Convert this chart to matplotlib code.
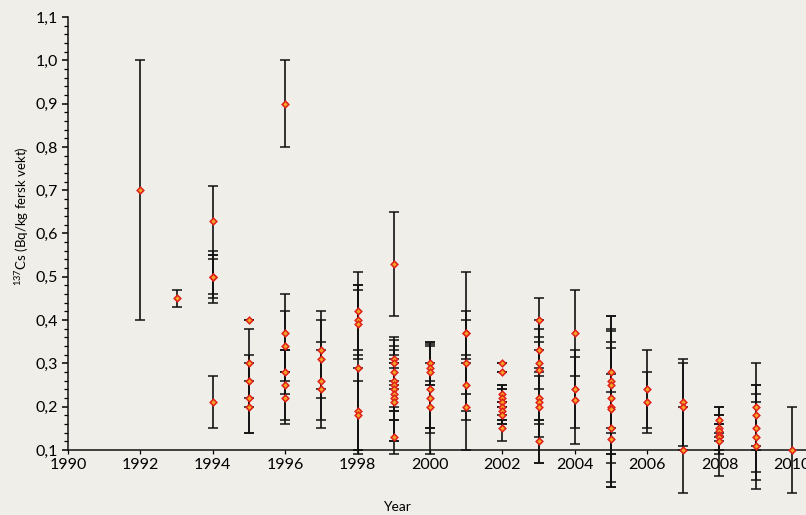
import matplotlib
matplotlib.use("Agg")
import matplotlib.pyplot as plt
from matplotlib.ticker import MultipleLocator, FuncFormatter

# 137Cs per sample: value with lower/upper bound of the uncertainty bar
years = [1992, 1993, 1994, 1995, 1996, 1997, 1998, 1999, 2000, 2001,
         2002, 2003, 2004, 2005, 2006, 2007, 2008, 2009, 2010]

values = [
    [0.70],
    [0.45],
    [0.63, 0.50, 0.50, 0.50, 0.21],
    [0.40, 0.30, 0.26, 0.22, 0.20],
    [0.90, 0.37, 0.34, 0.28, 0.25, 0.22],
    [0.33, 0.31, 0.26, 0.24],
    [0.42, 0.40, 0.39, 0.29, 0.19, 0.18],
    [0.53, 0.31, 0.30, 0.28, 0.26, 0.25, 0.24, 0.23, 0.22, 0.21, 0.13],
    [0.30, 0.29, 0.28, 0.24, 0.22, 0.20],
    [0.37, 0.37, 0.30, 0.25, 0.20],
    [0.30, 0.28, 0.23, 0.22, 0.21, 0.20, 0.19, 0.18, 0.15],
    [0.40, 0.33, 0.30, 0.285, 0.22, 0.21, 0.20, 0.12],
    [0.37, 0.24, 0.215],
    [0.28, 0.26, 0.25, 0.22, 0.20, 0.195, 0.15, 0.125],
    [0.24, 0.21],
    [0.21, 0.20, 0.10],
    [0.17, 0.15, 0.145, 0.135, 0.13, 0.12],
    [0.20, 0.18, 0.15, 0.13, 0.11],
    [0.10],
]

lows = [
    [0.40],
    [0.43],
    [0.55, 0.44, 0.46, 0.45, 0.15],
    [0.40, 0.22, 0.20, 0.14, 0.14],
    [0.80, 0.28, 0.26, 0.23, 0.17, 0.16],
    [0.24, 0.22, 0.17, 0.15],
    [0.33, 0.32, 0.31, 0.10, 0.09, 0.10],
    [0.41, 0.26, 0.25, 0.24, 0.19, 0.20, 0.17, 0.12, 0.19, 0.12, 0.09],
    [0.25, 0.14, 0.26, 0.15, 0.09, 0.15],
    [0.23, 0.32, 0.19, 0.17, 0.10],
    [0.30, 0.28, 0.21, 0.20, 0.17, 0.16, 0.17, 0.16, 0.12],
    [0.35, 0.27, 0.24, 0.17, 0.16, 0.13, 0.07, 0.07],
    [0.27, 0.15, 0.115],
    [0.15, 0.14, 0.09, 0.09, 0.07, 0.015, 0.025, 0.015],
    [0.15, 0.14],
    [0.11, 0.10, 0.00],
    [0.14, 0.12, 0.13, 0.09, 0.10, 0.04],
    [0.10, 0.11, 0.05, 0.03, 0.01],
    [0.00],
]

highs = [
    [1.00],
    [0.47],
    [0.71, 0.56, 0.54, 0.55, 0.27],
    [0.40, 0.38, 0.32, 0.30, 0.26],
    [1.00, 0.46, 0.42, 0.33, 0.33, 0.28],
    [0.42, 0.40, 0.35, 0.33],
    [0.51, 0.48, 0.47, 0.48, 0.29, 0.26],
    [0.65, 0.36, 0.355, 0.32, 0.33, 0.30, 0.31, 0.34, 0.29, 0.30, 0.17],
    [0.35, 0.345, 0.30, 0.34, 0.35, 0.25],
    [0.51, 0.42, 0.40, 0.31, 0.30],
    [0.30, 0.28, 0.25, 0.24, 0.25, 0.24, 0.21, 0.20, 0.18],
    [0.45, 0.38, 0.36, 0.40, 0.28, 0.29, 0.33, 0.17],
    [0.47, 0.33, 0.315],
    [0.41, 0.38, 0.41, 0.35, 0.335, 0.375, 0.275, 0.235],
    [0.33, 0.28],
    [0.31, 0.30, 0.20],
    [0.20, 0.18, 0.16, 0.18, 0.16, 0.20],
    [0.30, 0.25, 0.25, 0.23, 0.21],
    [0.20],
]

x, y, err_lo, err_hi = [], [], [], []
for yr, vals, lo, hi in zip(years, values, lows, highs):
    for v, l, h in zip(vals, lo, hi):
        x.append(yr)
        y.append(v)
        err_lo.append(v - l)
        err_hi.append(h - v)

bg = "#efeee9"
plt.rcParams["font.family"] = ["Lato", "DejaVu Sans"]
plt.rcParams["mathtext.fontset"] = "custom"
plt.rcParams["mathtext.rm"] = "Lato"

fig = plt.figure(figsize=(8.06, 5.15), dpi=100, facecolor=bg)
ax = fig.add_axes([68 / 806, 65 / 515, 738 / 806, 433 / 515], facecolor=bg)

eb = ax.errorbar(x, y, yerr=[err_lo, err_hi], fmt="none", ecolor="#111111",
                 elinewidth=1.2, capsize=3.5, capthick=1.1, zorder=2)
for art in list(eb.lines[1]) + list(eb.lines[2]):
    art.set_clip_on(False)

ax.plot(x, y, linestyle="none", marker="D", markersize=3.4,
        markerfacecolor="#f5a623", markeredgecolor="#e0201b",
        markeredgewidth=1.1, zorder=3, clip_on=False)

ax.set_xlim(1990, 2010.39)
ax.set_ylim(0.1, 1.1)
ax.xaxis.set_major_locator(MultipleLocator(2))
ax.yaxis.set_major_locator(MultipleLocator(0.1))
ax.yaxis.set_minor_locator(MultipleLocator(0.02))
ax.yaxis.set_major_formatter(FuncFormatter(lambda v, p: f"{v:.1f}".replace(".", ",")))

for side in ["top", "right"]:
    ax.spines[side].set_visible(False)
for side in ["left", "bottom"]:
    ax.spines[side].set_linewidth(1.1)
    ax.spines[side].set_color("#111111")

ax.tick_params(axis="y", which="major", length=4, width=1.1, pad=3, labelsize=11.5)
ax.tick_params(axis="y", which="minor", length=3, width=0.9)
ax.tick_params(axis="x", which="major", length=3, width=0.9, pad=3, labelsize=11.5)

ax.set_xlabel("Year", fontsize=10)
ax.xaxis.set_label_coords(0.446, -0.118)
ax.set_ylabel(r"$\mathregular{^{137}}$Cs (Bq/kg fersk vekt)", fontsize=9.5)
ax.yaxis.set_label_coords(-0.050, 0.54)

fig.savefig("out.png", dpi=100, facecolor=bg)
